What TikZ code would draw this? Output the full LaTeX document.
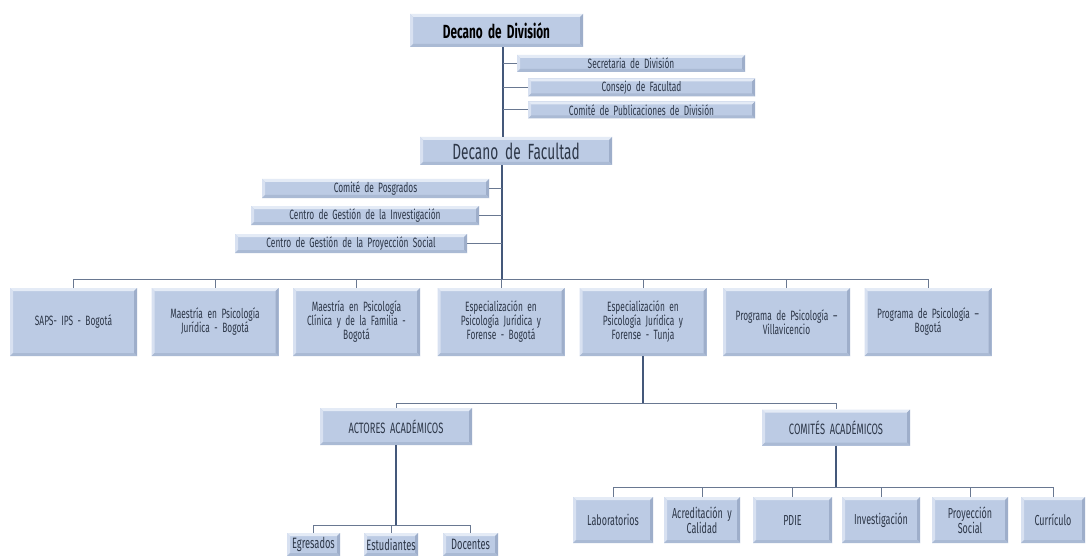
\documentclass[tikz,border=0pt]{standalone}
\usepackage{fontspec}
\setmainfont[FakeStretch=0.62, WordSpace=1.9]{Fira Sans}
\definecolor{boxblue}{RGB}{188,203,228}
\definecolor{bevlight}{RGB}{228,235,246}
\definecolor{bevdark}{RGB}{158,174,202}
\definecolor{linec}{RGB}{105,120,145}
\definecolor{spinec}{RGB}{68,88,122}
\definecolor{txt}{RGB}{45,55,72}
\tikzset{
  box/.style={fill=boxblue, text=txt, align=center, inner sep=1pt,
    font=\fontsize{13.5}{14}\selectfont,
    path picture={
      \fill[bevlight] (path picture bounding box.north west) -- (path picture bounding box.north east)
        -- ([shift={(-3pt,-3pt)}]path picture bounding box.north east) -- ([shift={(3pt,-3pt)}]path picture bounding box.north west) -- cycle;
      \fill[bevlight!70!boxblue] (path picture bounding box.north west) -- ([shift={(3pt,-3pt)}]path picture bounding box.north west)
        -- ([shift={(3pt,3pt)}]path picture bounding box.south west) -- (path picture bounding box.south west) -- cycle;
      \fill[bevdark] (path picture bounding box.north east) -- (path picture bounding box.south east)
        -- ([shift={(-3pt,3pt)}]path picture bounding box.south east) -- ([shift={(-3pt,-3pt)}]path picture bounding box.north east) -- cycle;
      \fill[bevdark!60!boxblue] (path picture bounding box.south west) -- (path picture bounding box.south east)
        -- ([shift={(-3pt,3pt)}]path picture bounding box.south east) -- ([shift={(3pt,3pt)}]path picture bounding box.south west) -- cycle;
    }},
  conn/.style={draw=linec, line width=1pt},
  spine/.style={draw=spinec, line width=1.5pt},
}
\begin{document}
\begin{tikzpicture}[x=1pt,y=-1pt]
\fill[white] (0,0) rectangle (1086,556);
\useasboundingbox (0,0) rectangle (1086,556);

% top level
\node[box, minimum width=173pt, minimum height=33pt, text=black, font=\bfseries\fontsize{19}{21}\selectfont] (dd) at (496.5,30.5) {Decano de División};
\node[box, minimum width=228pt, minimum height=17pt] (sec) at (631,63.5) {Secretaria de División};
\node[box, minimum width=227pt, minimum height=18pt] (cons) at (641.5,87.5) {Consejo de Facultad};
\node[box, minimum width=227pt, minimum height=17pt] (com) at (641.5,110) {Comité de Publicaciones de División};

\node[box, minimum width=192pt, minimum height=28pt, font=\fontsize{22}{24}\selectfont] (df) at (516,151) {Decano de Facultad};
\node[box, minimum width=227pt, minimum height=19pt] (cp) at (375.5,188.5) {Comité de Posgrados};
\node[box, minimum width=228pt, minimum height=19pt] (cgi) at (365,215.5) {Centro de Gestión de la Investigación};
\node[box, minimum width=232pt, minimum height=19pt] (cgp) at (351,243.5) {Centro de Gestión de la Proyección Social};

\coordinate (s1) at (503,47);
\coordinate (s2) at (502,165);
\draw[spine] (s1 |- dd.south) -- (s1 |- df.north);
\draw[conn] (s1 |- sec.west) -- (sec.west);
\draw[conn] (s1 |- cons.west) -- (cons.west);
\draw[conn] (s1 |- com.west) -- (com.west);

% programs row
\tikzset{prog/.style={box, minimum width=127pt, minimum height=68pt, text width=124pt}}
\node[prog] (b1) at (73.5,322) {SAPS- IPS - Bogotá};
\node[prog] (b2) at (215,322) {Maestría en Psicología\\Jurídica - Bogotá};
\node[prog] (b3) at (356.5,322) {Maestría en Psicología\\Clínica y de la Familia -\\Bogotá};
\node[prog] (b4) at (501,322) {Especialización en\\Psicología Jurídica y\\Forense - Bogotá};
\node[prog] (b5) at (643,322) {Especialización en\\Psicología Jurídica y\\Forense - Tunja};
\node[prog] (b6) at (786.5,322) {Programa de Psicología --\\Villavicencio};
\node[prog] (b7) at (928,322) {Programa de Psicología --\\Bogotá};

\coordinate (bus1) at (0,279);
\draw[spine] (s2 |- df.south) -- (s2 |- bus1);
\draw[conn] (cp.east) -- (s2 |- cp.east);
\draw[conn] (cgi.east) -- (s2 |- cgi.east);
\draw[conn] (cgp.east) -- (s2 |- cgp.east);
\draw[conn] (b1.north |- bus1) -- (b7.north |- bus1);
\foreach \n in {b1,b2,b3,b4,b5,b6,b7} \draw[conn] (\n.north |- bus1) -- (\n.north);

% academic level
\node[box, minimum width=152pt, minimum height=37pt, font=\fontsize{15}{16}\selectfont] (act) at (396,426.5) {ACTORES ACADÉMICOS};
\node[box, minimum width=148pt, minimum height=36pt, font=\fontsize{15}{16}\selectfont] (cmt) at (836,427.5) {COMITÉS ACADÉMICOS};
\coordinate (bus2) at (0,403);
\draw[spine] (b5.south) -- (b5.south |- bus2);
\draw[conn] (act.north |- bus2) -- (cmt.north |- bus2);
\draw[conn] (act.north |- bus2) -- (act.north);
\draw[conn] (cmt.north |- bus2) -- (cmt.north);

% actors
\tikzset{small/.style={box, minimum height=23pt, font=\fontsize{15}{16}\selectfont}}
\node[small, minimum width=53pt] (eg) at (313.5,544.5) {Egresados};
\node[small, minimum width=54pt] (es) at (391,544.5) {Estudiantes};
\node[small, minimum width=55pt] (doc) at (470.5,544.5) {Docentes};
\coordinate (bus3) at (0,525);
\draw[spine] (act.south) -- (act.south |- bus3);
\draw[conn] (eg.north |- bus3) -- (doc.north |- bus3);
\foreach \n in {eg,es,doc} \draw[conn] (\n.north |- bus3) -- (\n.north);

% committees
\tikzset{cbox/.style={box, minimum height=46pt, font=\fontsize{14.5}{15}\selectfont}}
\node[cbox, minimum width=80pt] (lab) at (613,520) {Laboratorios};
\node[cbox, minimum width=76pt] (acr) at (702,520) {Acreditación y\\Calidad};
\node[cbox, minimum width=79pt] (pdie) at (792.5,520) {PDIE};
\node[cbox, minimum width=78pt] (inv) at (881,520) {Investigación};
\node[cbox, minimum width=76pt] (proy) at (970,520) {Proyección\\Social};
\node[cbox, minimum width=64pt] (cur) at (1053,520) {Currículo};
\coordinate (bus4) at (0,487);
\draw[spine] (cmt.south) -- (cmt.south |- bus4);
\draw[conn] (lab.north |- bus4) -- (cur.north |- bus4);
\foreach \n in {lab,acr,pdie,inv,proy,cur} \draw[conn] (\n.north |- bus4) -- (\n.north);
\end{tikzpicture}
\end{document}
